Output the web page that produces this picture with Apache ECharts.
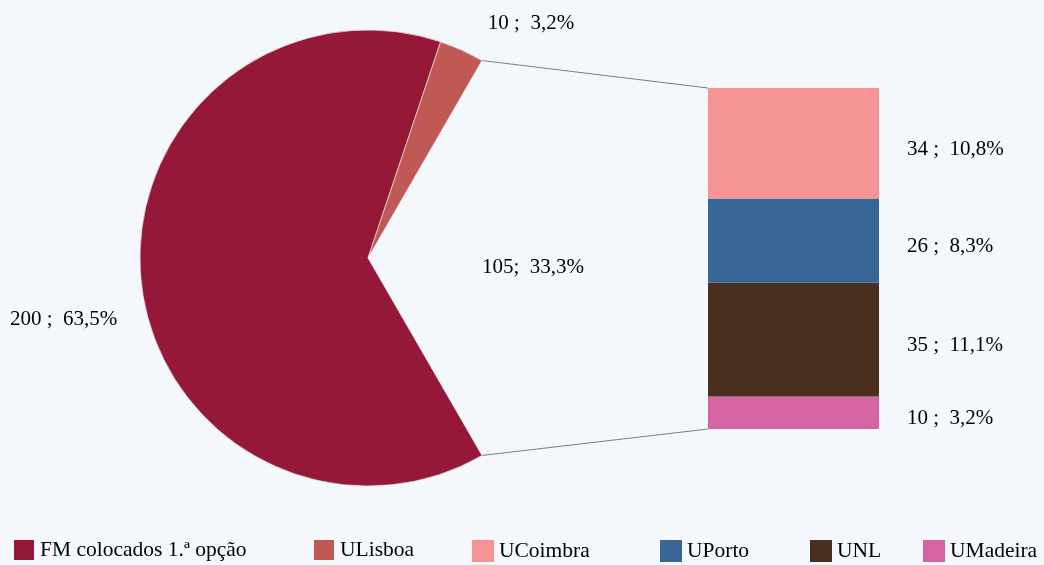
<!DOCTYPE html>
<html><head><meta charset="utf-8">
<script src="https://cdn.jsdelivr.net/npm/echarts@6/dist/echarts.min.js"></script>
<style>html,body{margin:0;padding:0;background:#f4f7fb}#c{width:1044px;height:565px}</style>
</head><body><div id="c"></div>
<script>
// ---- data ----
const pieNames = ['FM colocados 1.ª opção', 'ULisboa'];
const pieValues = [200, 10];
const barNames = ['UCoimbra', 'UPorto', 'UNL', 'UMadeira'];
const barValues = [34, 26, 35, 10];
const legendOrder = ['FM colocados 1.ª opção', 'ULisboa', 'UCoimbra', 'UPorto', 'UNL', 'UMadeira'];

// ---- styles ----
const colors = {
  'FM colocados 1.ª opção': '#951839',
  'ULisboa': '#c05953',
  'UCoimbra': '#f49494',
  'UPorto': '#386795',
  'UNL': '#4a2f1f',
  'UMadeira': '#d464a4'
};
const FONT = '"Liberation Serif", "Times New Roman", serif';
const FS = 21;
const PIE_C = [368, 258], PIE_R = 228;
const GRID = {left: 708, top: 88, width: 171, height: 341};
const legendLeft = [12, 312, 472, 660, 810, 923];

const otherTotal = barValues.reduce((a, b) => a + b, 0);
const total = pieValues.reduce((a, b) => a + b, 0) + otherTotal;
const pct = v => (v / total * 100).toFixed(1).replace('.', ',') + '%';
const startAngle = 360 * (otherTotal / 2 + pieValues[1]) / total;

const pieData = [
  {name: pieNames[0], value: pieValues[0], itemStyle: {color: colors[pieNames[0]]},
   label: {formatter: pieValues[0] + ' ;  ' + pct(pieValues[0])}},
  {name: '__other', value: otherTotal, itemStyle: {color: 'rgba(0,0,0,0)', borderWidth: 0},
   label: {position: 'inside', formatter: otherTotal + ';  ' + pct(otherTotal)}},
  {name: pieNames[1], value: pieValues[1], itemStyle: {color: colors[pieNames[1]]},
   label: {formatter: pieValues[1] + ' ;  ' + pct(pieValues[1])}}
];
const labelPos = [
  {x: 10, y: 319, align: 'left'},
  {x: 533, y: 267, align: 'center'},
  {x: 531, y: 23, align: 'center'}
];

const chart = echarts.init(document.getElementById('c'));
const barSeries = barNames.slice().reverse().map(n => {
  const v = barValues[barNames.indexOf(n)];
  return {
    type: 'bar', name: n, stack: 'o', data: [v], barWidth: '100%',
    itemStyle: {color: colors[n]},
    label: {show: true, position: 'right', distance: 28, offset: [0, 6],
      formatter: v + ' ;  ' + pct(v), fontFamily: FONT, fontSize: FS, color: '#000'},
    emphasis: {disabled: true}, silent: true
  };
});

chart.setOption({
  backgroundColor: '#f4f7fb',
  animation: false,
  textStyle: {fontFamily: FONT},
  legend: legendOrder.map((n, i) => ({
    data: [n], left: legendLeft[i], bottom: 3, padding: 0, icon: 'rect',
    itemWidth: 22, itemHeight: 22, itemTextGap: 11, selectedMode: false,
    textStyle: {fontFamily: FONT, fontSize: 21.5, color: '#000'}
  })),
  grid: GRID,
  xAxis: {type: 'category', data: [''], show: false},
  yAxis: {type: 'value', min: 0, max: otherTotal, show: false},
  series: [
    {
      type: 'pie', center: PIE_C, radius: PIE_R, clockwise: false, startAngle: startAngle,
      data: pieData, silent: true, emphasis: {disabled: true},
      itemStyle: {borderColor: '#f4f7fb', borderWidth: 0.6},
      label: {show: true, position: 'outside', fontFamily: FONT, fontSize: FS, color: '#000',
        overflow: 'none', width: 300},
      labelLine: {show: false},
      labelLayout: p => Object.assign({verticalAlign: 'middle'}, labelPos[p.dataIndex])
    },
    ...barSeries
  ]
});

// connector lines from pie gap edges to bar corners
const halfGap = Math.PI * otherTotal / total;
const topPt = [PIE_C[0] + PIE_R * Math.cos(halfGap), PIE_C[1] - PIE_R * Math.sin(halfGap)];
const botPt = [PIE_C[0] + PIE_R * Math.cos(halfGap), PIE_C[1] + PIE_R * Math.sin(halfGap)];
const barTop = chart.convertToPixel({xAxisIndex: 0, yAxisIndex: 0}, [0, otherTotal]);
const barBot = chart.convertToPixel({xAxisIndex: 0, yAxisIndex: 0}, [0, 0]);
const barLeft = barTop[0] - GRID.width / 2;
chart.setOption({
  graphic: [
    {type: 'line', shape: {x1: topPt[0], y1: topPt[1], x2: barLeft, y2: barTop[1]},
     style: {stroke: '#7f7f7f', lineWidth: 1}, silent: true},
    {type: 'line', shape: {x1: botPt[0], y1: botPt[1], x2: barLeft, y2: barBot[1]},
     style: {stroke: '#7f7f7f', lineWidth: 1}, silent: true}
  ]
});
</script></body></html>
